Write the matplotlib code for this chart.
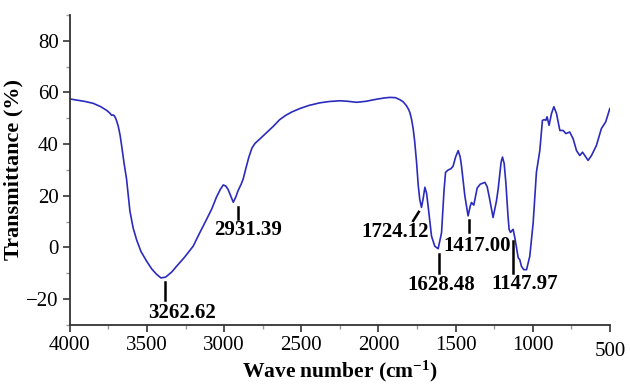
import matplotlib

matplotlib.use("Agg")

from matplotlib import pyplot as plt
from matplotlib import ticker

# FTIR spectrum
wavenumber = [
    4000, 3950, 3900, 3849, 3800, 3760, 3741, 3730, 3719, 3710, 3700, 3687,
    3675, 3665, 3650, 3633, 3620, 3611, 3590, 3568, 3540, 3503, 3470, 3440,
    3410, 3380, 3340, 3309, 3260, 3201, 3160, 3114, 3080, 3050, 3025, 3006,
    2990, 2975, 2955, 2941, 2925, 2910, 2890, 2877, 2860, 2840, 2820, 2800,
    2769, 2725, 2680, 2640, 2600, 2560, 2509, 2450, 2380, 2320, 2250, 2200,
    2142, 2080, 2012, 1960, 1926, 1890, 1861, 1840, 1820, 1805, 1795, 1785,
    1775, 1765, 1753, 1742, 1732, 1721, 1710, 1699, 1688, 1678, 1656,
    1635, 1613, 1591, 1575, 1565, 1548, 1530, 1516, 1500, 1483, 1470, 1462,
    1440, 1419, 1405, 1397, 1382, 1360, 1340, 1310, 1295, 1280, 1257, 1235,
    1224, 1205, 1196, 1185, 1174, 1160, 1153, 1144, 1135, 1127, 1116, 1094,
    1084, 1073, 1058, 1040, 1019, 997, 976, 954, 937, 925, 915, 907, 894,
    878, 863, 846, 824, 803, 785, 760, 738, 716, 695, 677, 656, 641, 619,
    587, 555, 527, 500,
]
transmittance = [
    57.5, 57.0, 56.5, 55.8, 54.5, 53.0, 52.0, 51.2, 51.3, 50.8, 49.5, 47.0,
    43.5, 39.5, 33.0, 26.5, 19.0, 14.0, 7.5, 3.0, -1.5, -5.3, -8.3, -10.3,
    -11.8, -11.5, -9.5, -7.3, -4.0, 0.5, 5.5, 10.9, 15.0, 19.5, 22.5, 24.2,
    23.8, 22.5, 19.5, 17.5, 19.5, 22.0, 24.5, 26.5, 30.5, 35.0, 38.5, 40.3,
    42.0, 44.5, 47.0, 49.5, 51.2, 52.5, 53.8, 55.0, 56.0, 56.5, 56.8, 56.6,
    56.2, 56.6, 57.4, 57.9, 58.1, 58.0, 57.2, 56.4, 55.0, 53.5, 52.0, 49.5,
    46.0, 41.0, 33.0, 24.0, 18.5, 15.5, 19.0, 23.3, 21.0, 16.0, 4.4,
    0.5, -0.5, 5.7, 22.0, 29.1, 30.0, 30.5, 31.5, 35.0, 37.5, 35.0, 31.7,
    20.0, 12.2, 16.0, 17.4, 16.4, 23.0, 24.5, 25.2, 23.5, 19.0, 11.6, 18.0,
    22.6, 33.0, 35.0, 32.5, 25.0, 12.0, 7.0, 5.8, 6.5, 7.0, 3.8, -4.0,
    -4.7, -7.3, -8.6, -8.6, -3.4, 9.6, 29.1, 37.5, 49.2, 49.5, 49.2, 50.6, 47.3,
    51.9, 54.5, 51.9, 45.3, 45.3, 44.1, 44.7, 42.1, 37.5, 35.6, 36.9, 35.0, 33.7, 35.6,
    39.5, 46.0, 48.6, 53.8,
]

# peak labels: text, marker line (x0, y0, x1, y1), label position
peak_labels = ["3262.62", "2931.39", "1724.12", "1628.48", "1417.00", "1147.97"]
peak_lines = [
    (3384, -13.5, 3384, -20.3),
    (2913, 15.5, 2913, 11.2),
    (1775, 10.3, 1738, 13.8),
    (1607, -2.5, 1607, -9.9),
    (1412, 10.6, 1412, 6.0),
    (1131, 2.5, 1131, -9.9),
]
peak_text_pos = [
    (3271, -25.4),
    (2847, 6.6),
    (1894, 6.0),
    (1594, -14.6),
    (1362, 0.7),
    (1051, -14.0),
]

x_ticks = [4000, 3500, 3000, 2500, 2000, 1500, 1000, 500]
y_ticks = [-20, 0, 20, 40, 60, 80]

plt.rcParams.update(
    {
        "font.family": "Liberation Serif",
        "font.size": 15,
        "mathtext.fontset": "custom",
        "mathtext.rm": "Liberation Serif",
        "mathtext.bf": "Liberation Serif:bold",
        "mathtext.default": "bf",
        "axes.spines.right": False,
        "axes.spines.top": False,
        "axes.edgecolor": "#333333",
        "axes.linewidth": 1.3,
    }
)

fig = plt.figure(figsize=(6.3, 3.85), dpi=100)
ax = fig.add_axes([0.111, 0.156, 0.857, 0.805])

ax.plot(wavenumber, transmittance, color="#2b2bbd", linewidth=1.2)

for (x0, y0, x1, y1) in peak_lines:
    ax.plot([x0, x1], [y0, y1], color="black", linewidth=1.8)
for label, (tx, ty) in zip(peak_labels, peak_text_pos):
    ax.text(tx, ty, label, ha="center", va="center", fontsize=15,
            fontweight="bold")

ax.set_xlim(4000, 500)
ax.set_ylim(-30, 90)
ax.set_xticks(x_ticks)
ax.set_yticks(y_ticks)
ax.xaxis.set_minor_locator(ticker.MultipleLocator(250))
ax.yaxis.set_minor_locator(ticker.MultipleLocator(10))
ax.tick_params(which="major", length=5, width=1.2, color="#333333",
               labelsize=15, pad=3)
ax.tick_params(which="minor", length=3, width=1.0, color="#999999")
# last x tick label sits a bit lower in the original
ax.get_xticklabels()[-1].set_y(-0.02)

ax.set_xlabel("Wave number (cm$^{-1}$)", fontsize=15.5, fontweight="bold",
              labelpad=-2)
ax.set_ylabel("Transmittance (%)", fontsize=16, fontweight="bold",
              labelpad=2)

fig.savefig("out.png", dpi=100)
